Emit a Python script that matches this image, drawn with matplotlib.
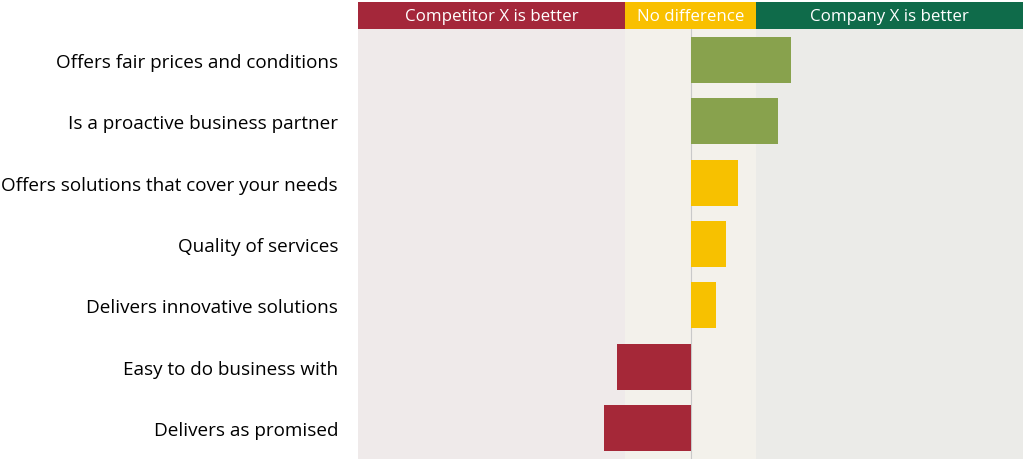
import matplotlib.pyplot as plt
from matplotlib.patches import Rectangle

plt.rcParams['font.family'] = ['Open Sans', 'DejaVu Sans']

labels = ['Offers fair prices and conditions', 'Is a proactive business partner',
          'Offers solutions that cover your needs', 'Quality of services',
          'Delivers innovative solutions', 'Easy to do business with', 'Delivers as promised']
values = [1.51, 1.31, 0.71, 0.53, 0.39, -1.10, -1.30]
zones = [(-5, -0.98, 'Competitor X is better'), (-0.98, 0.98, 'No difference'), (0.98, 5, 'Company X is better')]

zone_bg = ['#efeaea', '#f3f1eb', '#ebebe8']
zone_head = ['#a4273a', '#f9c000', '#0f6b4a']


def bar_color(v):
    if v >= 0.98:
        return '#88a24d'
    if v <= -0.98:
        return '#a52838'
    return '#f7c100'


fig = plt.figure(figsize=(10.24, 4.6), dpi=100)
ax = fig.add_axes([358 / 1024, 0, 665 / 1024, 430 / 460])
head = fig.add_axes([358 / 1024, 430 / 460, 665 / 1024, 27 / 460])

for (x0, x1, name), bg, hc in zip(zones, zone_bg, zone_head):
    ax.axvspan(x0, x1, color=bg, zorder=0, lw=0)
    head.add_patch(Rectangle((x0, 0), x1 - x0, 1, color=hc, lw=0))
    head.text((x0 + x1) / 2, 0.47, name, color='white', ha='center', va='center', fontsize=12.2)

ys = list(range(len(labels)))
ax.barh(ys, values, height=0.75, color=[bar_color(v) for v in values], zorder=2)
ax.axvline(0, color='#c9c9c9', lw=0.8, zorder=1)

ax.set_xlim(-5, 5)
ax.set_ylim(len(labels) - 0.5, -0.5)
ax.set_yticks(ys)
ax.set_yticklabels(labels, fontsize=13.6)
ax.tick_params(axis='y', length=0, pad=14.4)
ax.set_xticks([])
for s in ax.spines.values():
    s.set_visible(False)

head.set_xlim(-5, 5)
head.set_ylim(0, 1)
head.axis('off')

fig.savefig('out.png', dpi=100, facecolor='white')
